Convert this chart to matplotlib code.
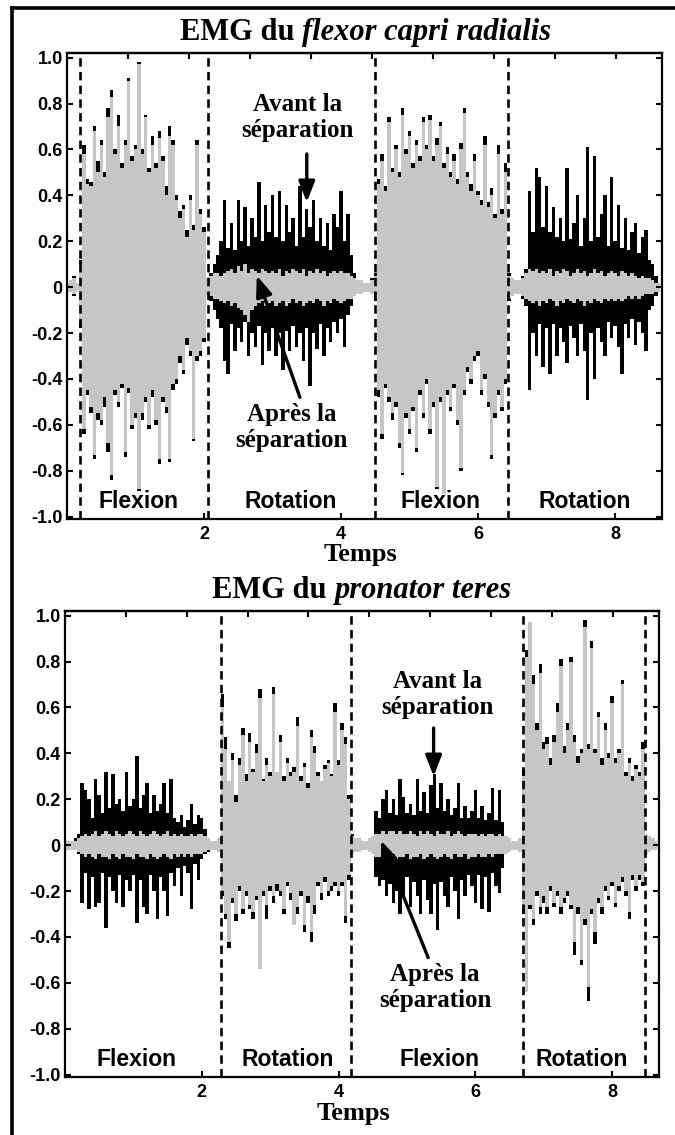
import numpy as np
import matplotlib
matplotlib.use('Agg')
import matplotlib.pyplot as plt
from matplotlib.lines import Line2D

# time axis (s), one envelope sample every 50 ms
t = np.round(np.arange(174) * 0.05, 2)

# ---- flexor capri radialis : envelope ----
# black = avant la separation, grey = apres la separation
top_avant_hi = [
    0.02, 0.03, 0.05, 0.02, 0.12, 0.62, 0.47, 0.46, 0.70, 0.55, 0.64, 0.50, 0.78, 0.86, 0.60, 0.75, 0.54, 0.64, 0.91, 0.57,
    0.62, 0.98, 0.60, 0.75, 0.52, 0.66, 0.54, 0.68, 0.57, 0.44, 0.70, 0.64, 0.40, 0.33, 0.36, 0.25, 0.40, 0.27, 0.64, 0.34,
    0.26, 0.04, 0.06, 0.10, 0.14, 0.20, 0.38, 0.17, 0.28, 0.16, 0.38, 0.20, 0.35, 0.18, 0.30, 0.22, 0.46, 0.20, 0.36, 0.24,
    0.40, 0.22, 0.42, 0.20, 0.36, 0.24, 0.30, 0.18, 0.44, 0.22, 0.34, 0.26, 0.38, 0.20, 0.30, 0.18, 0.28, 0.16, 0.32, 0.26,
    0.42, 0.20, 0.32, 0.14, 0.06, 0.03, 0.03, 0.02, 0.02, 0.04, 0.06, 0.47, 0.58, 0.44, 0.74, 0.52, 0.62, 0.50, 0.78, 0.60,
    0.68, 0.54, 0.64, 0.57, 0.74, 0.62, 0.75, 0.57, 0.65, 0.72, 0.54, 0.61, 0.50, 0.58, 0.47, 0.63, 0.78, 0.50, 0.45, 0.58,
    0.42, 0.38, 0.66, 0.37, 0.43, 0.32, 0.62, 0.34, 0.54, 0.06, 0.04, 0.03, 0.03, 0.05, 0.08, 0.42, 0.24, 0.52, 0.48, 0.26,
    0.44, 0.24, 0.35, 0.22, 0.30, 0.20, 0.52, 0.21, 0.28, 0.40, 0.18, 0.30, 0.61, 0.20, 0.57, 0.22, 0.32, 0.40, 0.18, 0.48,
    0.20, 0.36, 0.17, 0.30, 0.16, 0.24, 0.28, 0.15, 0.22, 0.25, 0.12, 0.10, 0.05, 0.02]
top_avant_lo = [
    -0.02, -0.02, -0.04, -0.02, -0.18, -0.64, -0.47, -0.55, -0.75, -0.58, -0.60, -0.52, -0.72, -0.84, -0.47, -0.52, -0.44, -0.74, -0.46, -0.62,
    -0.57, -0.89, -0.58, -0.50, -0.62, -0.48, -0.60, -0.77, -0.50, -0.55, -0.76, -0.45, -0.42, -0.33, -0.38, -0.25, -0.30, -0.67, -0.32, -0.30,
    -0.24, -0.04, -0.06, -0.10, -0.14, -0.18, -0.32, -0.38, -0.16, -0.28, -0.18, -0.24, -0.15, -0.30, -0.20, -0.26, -0.17, -0.34, -0.20, -0.28,
    -0.18, -0.30, -0.20, -0.36, -0.19, -0.28, -0.17, -0.26, -0.20, -0.32, -0.18, -0.43, -0.20, -0.27, -0.16, -0.30, -0.18, -0.24, -0.15, -0.20,
    -0.14, -0.26, -0.12, -0.08, -0.04, -0.03, -0.03, -0.02, -0.02, -0.03, -0.06, -0.48, -0.66, -0.44, -0.50, -0.58, -0.52, -0.70, -0.82, -0.57,
    -0.64, -0.54, -0.72, -0.47, -0.57, -0.42, -0.64, -0.52, -0.88, -0.50, -0.68, -0.47, -0.54, -0.44, -0.60, -0.80, -0.47, -0.37, -0.42, -0.32,
    -0.30, -0.47, -0.40, -0.52, -0.75, -0.57, -0.47, -0.54, -0.42, -0.06, -0.04, -0.03, -0.03, -0.05, -0.08, -0.45, -0.20, -0.30, -0.16, -0.35,
    -0.18, -0.38, -0.16, -0.30, -0.18, -0.24, -0.33, -0.17, -0.22, -0.30, -0.16, -0.28, -0.49, -0.20, -0.40, -0.18, -0.24, -0.30, -0.15, -0.22,
    -0.17, -0.26, -0.38, -0.16, -0.22, -0.14, -0.25, -0.15, -0.20, -0.28, -0.10, -0.08, -0.04, -0.02]
top_apres_hi = [
    0.02, 0.03, 0.04, 0.02, 0.10, 0.58, 0.45, 0.44, 0.68, 0.50, 0.62, 0.48, 0.74, 0.83, 0.58, 0.70, 0.52, 0.62, 0.90, 0.55,
    0.60, 0.97, 0.58, 0.74, 0.50, 0.62, 0.52, 0.65, 0.55, 0.40, 0.66, 0.62, 0.38, 0.30, 0.34, 0.22, 0.38, 0.25, 0.62, 0.32,
    0.24, 0.04, 0.05, 0.06, 0.06, 0.05, 0.06, 0.07, 0.08, 0.06, 0.09, 0.07, 0.10, 0.06, 0.08, 0.07, 0.06, 0.08, 0.07, 0.06,
    0.07, 0.06, 0.08, 0.05, 0.07, 0.06, 0.08, 0.07, 0.06, 0.08, 0.05, 0.07, 0.06, 0.08, 0.06, 0.07, 0.05, 0.06, 0.07, 0.06,
    0.07, 0.06, 0.06, 0.05, 0.04, 0.03, 0.03, 0.02, 0.02, 0.03, 0.05, 0.45, 0.55, 0.42, 0.72, 0.50, 0.60, 0.48, 0.75, 0.58,
    0.66, 0.52, 0.62, 0.55, 0.72, 0.60, 0.73, 0.55, 0.62, 0.70, 0.52, 0.58, 0.48, 0.55, 0.45, 0.60, 0.76, 0.48, 0.42, 0.55,
    0.40, 0.36, 0.62, 0.35, 0.40, 0.30, 0.58, 0.32, 0.50, 0.05, 0.04, 0.03, 0.03, 0.04, 0.06, 0.08, 0.07, 0.08, 0.06, 0.07,
    0.06, 0.08, 0.05, 0.07, 0.06, 0.08, 0.07, 0.05, 0.06, 0.08, 0.06, 0.07, 0.05, 0.06, 0.08, 0.06, 0.07, 0.05, 0.06, 0.07,
    0.06, 0.05, 0.07, 0.06, 0.05, 0.06, 0.05, 0.04, 0.05, 0.04, 0.04, 0.03, 0.02, 0.02]
top_apres_lo = [
    -0.02, -0.02, -0.03, -0.02, -0.15, -0.62, -0.45, -0.52, -0.73, -0.55, -0.58, -0.48, -0.68, -0.82, -0.45, -0.50, -0.42, -0.72, -0.44, -0.60,
    -0.55, -0.88, -0.55, -0.48, -0.60, -0.45, -0.58, -0.75, -0.48, -0.52, -0.75, -0.42, -0.40, -0.30, -0.36, -0.22, -0.28, -0.66, -0.30, -0.28,
    -0.22, -0.04, -0.04, -0.05, -0.05, -0.06, -0.07, -0.06, -0.08, -0.07, -0.09, -0.10, -0.12, -0.15, -0.10, -0.08, -0.07, -0.06, -0.08, -0.07,
    -0.06, -0.08, -0.07, -0.06, -0.08, -0.07, -0.05, -0.07, -0.06, -0.08, -0.07, -0.06, -0.07, -0.05, -0.06, -0.08, -0.06, -0.07, -0.05, -0.06,
    -0.07, -0.06, -0.05, -0.05, -0.04, -0.03, -0.03, -0.02, -0.02, -0.03, -0.05, -0.45, -0.64, -0.42, -0.48, -0.55, -0.50, -0.68, -0.81, -0.55,
    -0.62, -0.52, -0.70, -0.45, -0.55, -0.40, -0.62, -0.50, -0.87, -0.48, -0.90, -0.45, -0.52, -0.42, -0.58, -0.79, -0.45, -0.35, -0.40, -0.30,
    -0.28, -0.45, -0.38, -0.50, -0.73, -0.55, -0.45, -0.52, -0.40, -0.05, -0.04, -0.03, -0.03, -0.04, -0.05, -0.06, -0.07, -0.06, -0.08, -0.06,
    -0.07, -0.05, -0.06, -0.08, -0.06, -0.07, -0.05, -0.06, -0.07, -0.05, -0.06, -0.08, -0.06, -0.07, -0.05, -0.06, -0.07, -0.05, -0.06, -0.05,
    -0.06, -0.05, -0.06, -0.05, -0.04, -0.05, -0.04, -0.05, -0.04, -0.03, -0.03, -0.03, -0.02, -0.02]

# ---- pronator teres ----
bot_avant_hi = [
    0.02, 0.02, 0.02, 0.03, 0.05, 0.27, 0.24, 0.20, 0.12, 0.29, 0.22, 0.14, 0.32, 0.16, 0.31, 0.18, 0.20, 0.15, 0.32, 0.17,
    0.20, 0.39, 0.16, 0.22, 0.27, 0.14, 0.22, 0.15, 0.18, 0.27, 0.14, 0.29, 0.12, 0.10, 0.13, 0.08, 0.11, 0.18, 0.09, 0.13,
    0.12, 0.07, 0.03, 0.02, 0.02, 0.03, 0.66, 0.47, 0.26, 0.40, 0.22, 0.38, 0.51, 0.31, 0.49, 0.33, 0.44, 0.68, 0.29, 0.38,
    0.32, 0.69, 0.30, 0.48, 0.30, 0.38, 0.32, 0.34, 0.56, 0.30, 0.36, 0.27, 0.50, 0.43, 0.32, 0.26, 0.35, 0.37, 0.31, 0.62,
    0.37, 0.53, 0.47, 0.22, 0.05, 0.03, 0.03, 0.02, 0.02, 0.03, 0.04, 0.15, 0.12, 0.20, 0.24, 0.14, 0.20, 0.13, 0.29, 0.21,
    0.14, 0.18, 0.13, 0.29, 0.15, 0.23, 0.14, 0.26, 0.31, 0.16, 0.27, 0.15, 0.20, 0.13, 0.16, 0.27, 0.12, 0.17, 0.12, 0.15,
    0.24, 0.12, 0.17, 0.11, 0.14, 0.25, 0.11, 0.24, 0.10, 0.04, 0.03, 0.02, 0.02, 0.03, 0.33, 0.85, 0.90, 0.74, 0.53, 0.79,
    0.45, 0.47, 0.38, 0.48, 0.62, 0.81, 0.43, 0.53, 0.82, 0.48, 0.39, 0.42, 0.98, 0.44, 0.89, 0.42, 0.58, 0.38, 0.53, 0.40,
    0.65, 0.38, 0.42, 0.72, 0.32, 0.38, 0.30, 0.35, 0.32, 0.45, 0.05, 0.04, 0.03, 0.02]
bot_avant_lo = [
    -0.02, -0.02, -0.02, -0.02, -0.04, -0.25, -0.12, -0.28, -0.14, -0.27, -0.25, -0.12, -0.36, -0.14, -0.20, -0.25, -0.13, -0.27, -0.15, -0.20,
    -0.13, -0.34, -0.15, -0.27, -0.30, -0.13, -0.20, -0.32, -0.14, -0.20, -0.31, -0.12, -0.18, -0.10, -0.22, -0.09, -0.12, -0.28, -0.08, -0.15,
    -0.06, -0.04, -0.03, -0.02, -0.02, -0.03, -0.22, -0.32, -0.45, -0.25, -0.33, -0.20, -0.30, -0.22, -0.28, -0.32, -0.24, -0.30, -0.22, -0.32,
    -0.20, -0.25, -0.20, -0.22, -0.30, -0.18, -0.24, -0.20, -0.30, -0.22, -0.38, -0.25, -0.42, -0.30, -0.18, -0.24, -0.16, -0.22, -0.20, -0.18,
    -0.22, -0.18, -0.34, -0.15, -0.04, -0.03, -0.03, -0.02, -0.02, -0.03, -0.04, -0.14, -0.18, -0.15, -0.22, -0.17, -0.25, -0.20, -0.30, -0.22,
    -0.14, -0.27, -0.16, -0.22, -0.30, -0.15, -0.24, -0.30, -0.17, -0.37, -0.16, -0.22, -0.27, -0.14, -0.20, -0.32, -0.15, -0.22, -0.13, -0.18,
    -0.25, -0.13, -0.28, -0.14, -0.29, -0.12, -0.18, -0.21, -0.10, -0.04, -0.03, -0.02, -0.02, -0.03, -0.30, -0.62, -0.28, -0.35, -0.22, -0.30,
    -0.25, -0.30, -0.20, -0.27, -0.22, -0.30, -0.25, -0.22, -0.28, -0.48, -0.30, -0.52, -0.35, -0.68, -0.30, -0.43, -0.25, -0.30, -0.20, -0.24,
    -0.18, -0.27, -0.20, -0.16, -0.22, -0.32, -0.15, -0.20, -0.15, -0.18, -0.04, -0.03, -0.02, -0.02]
bot_apres_hi = [
    0.02, 0.02, 0.02, 0.02, 0.03, 0.04, 0.05, 0.04, 0.05, 0.06, 0.04, 0.05, 0.06, 0.05, 0.04, 0.06, 0.05, 0.04, 0.05, 0.06,
    0.05, 0.04, 0.06, 0.05, 0.04, 0.05, 0.06, 0.05, 0.04, 0.05, 0.06, 0.04, 0.05, 0.04, 0.05, 0.04, 0.04, 0.05, 0.04, 0.05,
    0.05, 0.04, 0.03, 0.02, 0.02, 0.03, 0.60, 0.42, 0.28, 0.37, 0.19, 0.35, 0.48, 0.28, 0.45, 0.32, 0.40, 0.64, 0.28, 0.35,
    0.30, 0.66, 0.32, 0.45, 0.28, 0.36, 0.30, 0.32, 0.52, 0.28, 0.34, 0.25, 0.47, 0.40, 0.30, 0.28, 0.33, 0.36, 0.30, 0.58,
    0.35, 0.50, 0.44, 0.20, 0.04, 0.03, 0.03, 0.02, 0.02, 0.03, 0.04, 0.05, 0.05, 0.06, 0.05, 0.06, 0.06, 0.05, 0.06, 0.05,
    0.05, 0.06, 0.05, 0.04, 0.06, 0.05, 0.06, 0.05, 0.04, 0.06, 0.05, 0.05, 0.06, 0.04, 0.05, 0.06, 0.05, 0.04, 0.05, 0.05,
    0.05, 0.04, 0.05, 0.04, 0.05, 0.05, 0.04, 0.05, 0.04, 0.04, 0.03, 0.02, 0.02, 0.03, 0.30, 0.82, 0.97, 0.70, 0.50, 0.75,
    0.42, 0.44, 0.35, 0.45, 0.58, 0.78, 0.40, 0.50, 0.80, 0.45, 0.36, 0.40, 0.95, 0.42, 0.86, 0.40, 0.56, 0.35, 0.50, 0.38,
    0.62, 0.36, 0.40, 0.70, 0.30, 0.36, 0.28, 0.33, 0.30, 0.42, 0.05, 0.04, 0.03, 0.02]
bot_apres_lo = [
    -0.02, -0.02, -0.02, -0.02, -0.03, -0.04, -0.05, -0.04, -0.05, -0.06, -0.04, -0.05, -0.05, -0.06, -0.04, -0.05, -0.06, -0.04, -0.05, -0.05,
    -0.06, -0.04, -0.05, -0.05, -0.06, -0.04, -0.05, -0.06, -0.05, -0.04, -0.05, -0.06, -0.04, -0.05, -0.04, -0.05, -0.04, -0.05, -0.04, -0.04,
    -0.04, -0.03, -0.02, -0.02, -0.02, -0.03, -0.20, -0.30, -0.42, -0.23, -0.30, -0.18, -0.28, -0.20, -0.26, -0.29, -0.22, -0.54, -0.20, -0.26,
    -0.18, -0.22, -0.17, -0.20, -0.28, -0.16, -0.21, -0.35, -0.27, -0.20, -0.35, -0.22, -0.38, -0.26, -0.16, -0.21, -0.14, -0.20, -0.18, -0.16,
    -0.20, -0.16, -0.31, -0.13, -0.04, -0.03, -0.03, -0.02, -0.02, -0.03, -0.04, -0.05, -0.05, -0.04, -0.06, -0.05, -0.04, -0.06, -0.05, -0.05,
    -0.04, -0.06, -0.05, -0.05, -0.04, -0.06, -0.05, -0.04, -0.05, -0.06, -0.05, -0.04, -0.05, -0.06, -0.04, -0.05, -0.05, -0.04, -0.06, -0.05,
    -0.05, -0.04, -0.05, -0.05, -0.04, -0.05, -0.04, -0.04, -0.04, -0.04, -0.03, -0.02, -0.02, -0.03, -0.28, -0.64, -0.26, -0.32, -0.20, -0.27,
    -0.22, -0.27, -0.18, -0.25, -0.20, -0.27, -0.23, -0.20, -0.26, -0.42, -0.27, -0.50, -0.32, -0.62, -0.28, -0.38, -0.23, -0.27, -0.18, -0.22,
    -0.16, -0.25, -0.18, -0.14, -0.20, -0.29, -0.13, -0.18, -0.13, -0.16, -0.04, -0.03, -0.02, -0.02]

phases = ['Flexion', 'Rotation', 'Flexion', 'Rotation']
top_cuts = [0.19, 2.06, 4.50, 6.44]
bot_cuts = [2.28, 4.18, 6.70, 8.48]
top_phase_x = [1.04, 3.26, 5.45, 7.55]
bot_phase_x = [1.05, 3.26, 5.47, 7.56]
xticks = [2, 4, 6, 8]
top_axis_ticks = [0.89, 1.78, 2.67, 3.56, 4.45, 5.34, 6.23, 7.12, 8.01]
yticks = [1.0, 0.8, 0.6, 0.4, 0.2, 0.0, -0.2, -0.4, -0.6, -0.8, -1.0]

GREY = '#c6c6c6'
SERIF = 'Liberation Serif'
SANS = 'Liberation Sans'

plt.rcParams['font.family'] = SANS
plt.rcParams['font.weight'] = 'bold'

fig = plt.figure(figsize=(6.75, 11.35), dpi=100)


def draw_panel(rect, avant_hi, avant_lo, apres_hi, apres_lo, cuts, phase_x):
    ax = fig.add_axes(rect)
    ax.fill_between(t, avant_lo, avant_hi, step='mid', color='black', lw=0)
    ax.fill_between(t, apres_lo, apres_hi, step='mid', color=GREY, lw=0)
    for c in cuts:
        ax.axvline(c, color='black', lw=1.9, ls=(0, (3.2, 2.0)))
    for x, name in zip(phase_x, phases):
        ax.text(x, -0.935, name, ha='center', va='center', fontsize=16.5,
                fontweight='bold', family=SANS)
    ax.set_xlim(0, 8.685)
    ax.set_ylim(-1.01, 1.02)
    ax.set_xticks(xticks)
    ax.set_xticklabels([str(v) for v in xticks])
    ax.set_yticks(yticks)
    ax.set_yticklabels(['0' if v == 0 else f'{v:.1f}' for v in yticks])
    ax.tick_params(axis='both', direction='in', length=4, width=1.5,
                   labelsize=13, right=True)
    ax.tick_params(axis='x', pad=5)
    ax.tick_params(axis='y', pad=3)
    for s in ax.spines.values():
        s.set_linewidth(1.6)
    sec = ax.secondary_xaxis('top')
    sec.set_xticks(top_axis_ticks)
    sec.set_xticklabels([])
    sec.tick_params(direction='in', length=4, width=1.5)
    sec.spines['top'].set_linewidth(1.6)
    return ax


def label(ax, x, y, txt):
    ax.text(x, y, txt, ha='center', va='center', family=SERIF, fontsize=18,
            fontweight='bold', linespacing=1.15)


def arrow(ax, tail, head):
    ax.annotate('', xy=head, xytext=tail,
                arrowprops=dict(arrowstyle='-|>,head_length=0.9,head_width=0.35',
                                lw=2.4, color='black', shrinkA=0, shrinkB=0,
                                mutation_scale=14))


ax1 = draw_panel([67 / 675, 1 - 519 / 1135, 595 / 675, 466 / 1135],
                 top_avant_hi, top_avant_lo, top_apres_hi, top_apres_lo,
                 top_cuts, top_phase_x)
label(ax1, 3.37, 0.74, 'Avant la\nséparation')
arrow(ax1, (3.50, 0.58), (3.50, 0.37))
label(ax1, 3.28, -0.61, 'Après la\nséparation')
arrow(ax1, (3.40, -0.48), (2.77, 0.05))

ax2 = draw_panel([65 / 675, 1 - 1077 / 1135, 594 / 675, 466 / 1135],
                 bot_avant_hi, bot_avant_lo, bot_apres_hi, bot_apres_lo,
                 bot_cuts, bot_phase_x)
label(ax2, 5.45, 0.655, 'Avant la\nséparation')
arrow(ax2, (5.39, 0.51), (5.39, 0.30))
label(ax2, 5.41, -0.62, 'Après la\nséparation')
arrow(ax2, (5.31, -0.49), (4.62, 0.02))

# titles: plain part then italic muscle name right after it
for x0, y0, plain, italic in [(180 / 675, 1 - 40 / 1135, 'EMG du ', 'flexor capri radialis'),
                              (212 / 675, 1 - 598 / 1135, 'EMG du ', 'pronator teres')]:
    t1 = fig.text(x0, y0, plain, family=SERIF, fontsize=22, fontweight='bold',
                  va='baseline', ha='left')
    ax2.annotate(italic, xy=(1, 0), xycoords=t1, va='bottom', ha='left',
                 family=SERIF, fontsize=22, fontweight='bold', style='italic',
                 annotation_clip=False)

fig.text(360 / 675, 1 - 561 / 1135, 'Temps', family=SERIF, fontsize=19,
         fontweight='bold', ha='center', va='baseline')
fig.text(353 / 675, 1 - 1120 / 1135, 'Temps', family=SERIF, fontsize=19,
         fontweight='bold', ha='center', va='baseline')

# frame around the figure (top and left edges only)
fig.add_artist(Line2D([12 / 675, 1.0], [1 - 8 / 1135] * 2, transform=fig.transFigure,
                      color='black', lw=2.6))
fig.add_artist(Line2D([12 / 675] * 2, [0.0, 1 - 8 / 1135], transform=fig.transFigure,
                      color='black', lw=2.6))

fig.savefig('out.png', dpi=100)
